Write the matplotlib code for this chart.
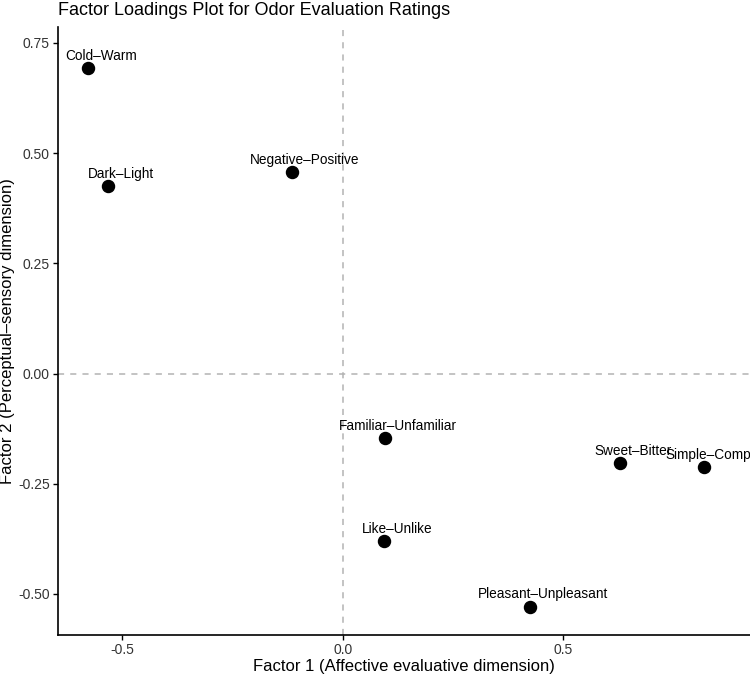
import matplotlib
matplotlib.use("Agg")
import matplotlib.pyplot as plt

plt.rcParams['font.family'] = ['Liberation Sans', 'DejaVu Sans']

# factor loadings
items = ["Cold–Warm", "Dark–Light", "Negative–Positive", "Familiar–Unfamiliar",
         "Like–Unlike", "Sweet–Bitter", "Simple–Complex", "Pleasant–Unpleasant"]
factor1 = [-0.578, -0.533, -0.116, 0.095, 0.093, 0.628, 0.819, 0.424]
factor2 = [0.692, 0.425, 0.457, -0.147, -0.380, -0.204, -0.213, -0.529]

x_ticks = [-0.5, 0.0, 0.5]
x_tick_labels = ["-0.5", "0.0", "0.5"]
y_ticks = [-0.50, -0.25, 0.00, 0.25, 0.50, 0.75]
y_tick_labels = ["-0.50", "-0.25", "0.00", "0.25", "0.50", "0.75"]

fig = plt.figure(figsize=(7.5, 6.76), dpi=100)
ax = fig.add_axes([58 / 750, 41 / 676, 1 - 58 / 750, (635 - 27) / 676])

ax.axhline(0, color='#b3b3b3', linestyle=(0, (4, 4)), linewidth=1.1, zorder=1)
ax.axvline(0, color='#b3b3b3', linestyle=(0, (4, 4)), linewidth=1.1, zorder=1)

ax.scatter(factor1, factor2, s=75, color='black', zorder=3, clip_on=False)
for name, fx, fy in zip(items, factor1, factor2):
    ax.annotate(name, (fx, fy), xytext=(9.5, 9), textcoords='offset points',
                ha='center', va='center', fontsize=9.8, color='black',
                annotation_clip=False)

ax.set_xlim(-0.646, 0.923)
ax.set_ylim(-0.593, 0.786)
ax.set_xticks(x_ticks)
ax.set_xticklabels(x_tick_labels)
ax.set_yticks(y_ticks)
ax.set_yticklabels(y_tick_labels)
ax.tick_params(labelsize=10, colors='black', labelcolor='#333333', length=3.5, width=1, pad=2.5)

for side in ['top', 'right']:
    ax.spines[side].set_visible(False)
for side in ['left', 'bottom']:
    ax.spines[side].set_linewidth(1.2)

ax.set_xlabel("Factor 1 (Affective evaluative dimension)", fontsize=12, labelpad=1)
ax.set_ylabel("Factor 2 (Perceptual–sensory dimension)", fontsize=12, labelpad=2)
fig.text(58 / 750, 1 - 15 / 676, "Factor Loadings Plot for Odor Evaluation Ratings",
         fontsize=13, ha='left', va='baseline')

fig.savefig("out.png", dpi=100)
